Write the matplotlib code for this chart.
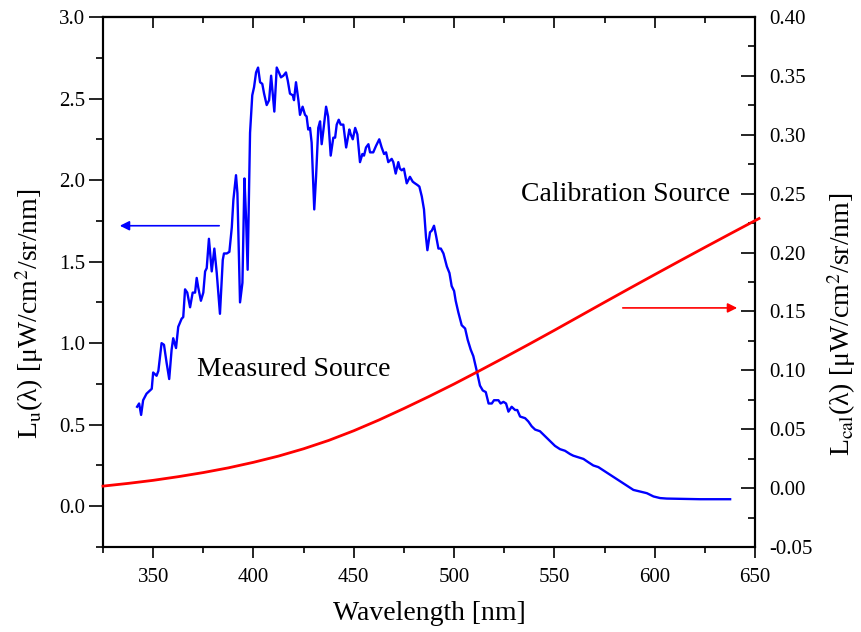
import matplotlib
matplotlib.use('Agg')
import matplotlib.pyplot as plt
from matplotlib.ticker import MultipleLocator, FormatStrFormatter

plt.rcParams['font.family'] = ['Liberation Serif', 'DejaVu Serif']
plt.rcParams['mathtext.fontset'] = 'stix'

# Measured source spectrum (left axis)
wl_measured = [342.0, 343.0, 344.0, 345.0, 346.7, 349.3, 350.0, 351.7, 352.6, 354.2,
               355.4, 356.7, 358.0, 359.2, 360.0, 361.4, 362.5, 364.2, 365.0, 365.9,
               367.0, 368.4, 369.7, 370.9, 371.7, 372.5, 373.8, 375.0, 375.9, 376.7,
               377.8, 379.2, 380.5, 381.7, 383.3, 384.7, 385.3, 386.7, 388.0, 389.2,
               390.0, 391.3, 392.0, 393.3, 394.5, 395.5, 396.3, 397.1, 397.8, 398.3,
               399.4, 400.3, 401.3, 402.3, 403.3, 404.4, 405.3, 406.6, 407.8, 408.8,
               409.6, 410.4, 411.6, 412.7, 413.7, 414.9, 416.2, 417.1, 418.2, 419.6,
               420.2, 421.2, 422.4, 423.2, 424.5, 425.7, 426.5, 427.3, 428.2, 429.0,
               429.8, 430.3, 431.2, 432.3, 433.2, 434.0, 434.8, 436.2, 437.2, 438.5,
               439.8, 440.7, 441.5, 442.5, 443.5, 444.8, 446.2, 447.8, 448.5, 449.5,
               450.7, 451.8, 453.1, 454.3, 455.1, 456.1, 457.3, 458.1, 459.7, 461.1,
               462.7, 463.9, 465.1, 466.1, 467.2, 468.9, 469.7, 470.9, 472.2, 473.0,
               473.9, 475.0, 476.4, 478.0, 479.4, 480.5, 481.7, 482.7, 483.9, 485.0,
               486.0, 486.7, 488.0, 488.9, 490.0, 491.0, 492.2, 493.4, 494.7, 496.4,
               497.7, 498.8, 500.0, 500.8, 502.1, 503.8, 505.5, 506.8, 508.3, 509.6,
               511.3, 512.9, 514.3, 515.8, 517.2, 518.8, 519.9, 522.1, 523.2, 524.6,
               525.9, 527.1, 528.7, 530.4, 531.5, 532.9, 535.4, 537.0, 538.7, 540.4,
               542.8, 545.3, 547.8, 550.3, 552.8, 555.3, 557.8, 559.4, 561.9, 564.5,
               566.9, 569.4, 571.9, 574.4, 576.9, 579.4, 581.9, 584.4, 586.9, 589.4,
               592.7, 596.1, 599.4, 602.7, 606.0, 614.3, 622.6, 637.6]
L_measured = [0.61, 0.63, 0.56, 0.65, 0.69, 0.72, 0.82, 0.80, 0.83, 1.00,
              0.99, 0.88, 0.78, 0.96, 1.03, 0.97, 1.10, 1.15, 1.16, 1.33,
              1.31, 1.22, 1.31, 1.31, 1.40, 1.34, 1.26, 1.31, 1.44, 1.46,
              1.64, 1.44, 1.58, 1.43, 1.18, 1.51, 1.55, 1.55, 1.56, 1.71,
              1.88, 2.03, 1.92, 1.25, 1.37, 2.01, 1.77, 1.45, 1.94, 2.29,
              2.52, 2.57, 2.66, 2.69, 2.60, 2.59, 2.53, 2.46, 2.49, 2.64,
              2.53, 2.42, 2.69, 2.66, 2.63, 2.64, 2.66, 2.61, 2.53, 2.52,
              2.49, 2.60, 2.49, 2.40, 2.45, 2.40, 2.39, 2.31, 2.32, 2.23,
              1.98, 1.82, 2.02, 2.32, 2.36, 2.22, 2.30, 2.45, 2.39, 2.15,
              2.26, 2.26, 2.34, 2.37, 2.34, 2.34, 2.20, 2.31, 2.28, 2.25,
              2.32, 2.28, 2.11, 2.16, 2.15, 2.20, 2.22, 2.17, 2.17, 2.21,
              2.25, 2.20, 2.16, 2.17, 2.11, 2.13, 2.11, 2.04, 2.11, 2.07,
              2.06, 2.07, 1.98, 2.02, 1.99, 1.98, 1.97, 1.96, 1.90, 1.82,
              1.65, 1.57, 1.68, 1.69, 1.72, 1.66, 1.58, 1.58, 1.55, 1.47,
              1.43, 1.35, 1.32, 1.26, 1.19, 1.11, 1.09, 1.02, 0.96, 0.92,
              0.83, 0.74, 0.71, 0.70, 0.63, 0.63, 0.65, 0.65, 0.63, 0.64,
              0.63, 0.58, 0.61, 0.59, 0.59, 0.55, 0.54, 0.52, 0.49, 0.47,
              0.46, 0.43, 0.40, 0.37, 0.35, 0.34, 0.32, 0.31, 0.30, 0.29,
              0.27, 0.25, 0.24, 0.22, 0.20, 0.18, 0.16, 0.14, 0.12, 0.10,
              0.09, 0.08, 0.06, 0.05, 0.047, 0.045, 0.043, 0.043]

# Calibration source spectrum (right axis)
wl_cal = [325.0, 337.5, 350.0, 362.5, 375.0, 387.5, 400.0, 412.5, 425.0, 437.5,
          450.0, 462.5, 475.0, 487.5, 500.0, 512.5, 525.0, 537.5, 550.0, 562.5,
          575.0, 587.5, 600.0, 612.5, 625.0, 637.5, 650.0, 652.0]
L_cal = [0.0017, 0.0040, 0.0066, 0.0097, 0.0132, 0.0172, 0.0219, 0.0272, 0.0334, 0.0405,
         0.0487, 0.0578, 0.0676, 0.0778, 0.0884, 0.0995, 0.1108, 0.1223, 0.1340, 0.1459,
         0.1578, 0.1696, 0.1813, 0.1929, 0.2044, 0.2158, 0.2271, 0.2289]

x_ticks = [350, 400, 450, 500, 550, 600, 650]
x_tick_labels = ['350', '400', '450', '500', '550', '600', '650']

fig = plt.figure(figsize=(8.61, 6.32), dpi=100)
ax = fig.add_axes([103/861, 85/632, 652/861, 530/632])

ax.plot(wl_measured, L_measured, color='#0000ff', lw=1.7, zorder=3)
ax.set_xlim(325, 650)
ax.set_ylim(-0.25, 3.0)
ax.set_xticks(x_ticks)
ax.set_xticklabels(x_tick_labels)
ax.xaxis.set_minor_locator(MultipleLocator(25))
ax.yaxis.set_major_locator(MultipleLocator(0.5))
ax.yaxis.set_minor_locator(MultipleLocator(0.25))
ax.yaxis.set_major_formatter(FormatStrFormatter('%.1f'))
ax.tick_params(axis='both', which='major', direction='out', length=10, width=1.2,
               labelsize=15, pad=3, top=False, right=False)
ax.tick_params(axis='both', which='minor', direction='out', length=5, width=1.2,
               top=False, right=False)
ax.tick_params(axis='x', which='major', length=8, pad=7)
ax.tick_params(axis='x', which='minor', length=4)
for s in ax.spines.values():
    s.set_linewidth(1.5)

# top axis with inward ticks
top = ax.secondary_xaxis('top')
top.set_xticks(x_ticks)
top.xaxis.set_minor_locator(MultipleLocator(25))
top.tick_params(axis='x', which='major', direction='in', length=8, width=1.2, labeltop=False)
top.tick_params(axis='x', which='minor', direction='in', length=4, width=1.2)
top.spines['top'].set_linewidth(1.5)

ax.set_xlabel('Wavelength [nm]', fontsize=20, labelpad=10)
ax.set_ylabel(r'L$_{\mathrm{u}}$(λ) [μW/cm$^{2}$/sr/nm]', fontsize=20)
ax.yaxis.set_label_coords(-0.088, 0.44)

ax2 = ax.twinx()
ax2.plot(wl_cal, L_cal, color='#ff0000', lw=2.0, clip_on=False, zorder=3)
ax2.set_ylim(-0.05, 0.40)
ax2.yaxis.set_major_locator(MultipleLocator(0.05))
ax2.yaxis.set_minor_locator(MultipleLocator(0.025))
ax2.yaxis.set_major_formatter(FormatStrFormatter('%.2f'))
ax2.tick_params(axis='y', which='major', direction='in', length=10, width=1.2,
                labelsize=15, pad=10)
ax2.tick_params(axis='y', which='minor', direction='in', length=5, width=1.2)
for s in ax2.spines.values():
    s.set_linewidth(1.5)
ax2.set_ylabel(r'L$_{\mathrm{cal}}$(λ) [μW/cm$^{2}$/sr/nm]', fontsize=20, rotation=90)
ax2.yaxis.set_label_coords(1.108, 0.42)

ax.text(420.2, 0.84, 'Measured Source', fontsize=20, ha='center', va='center')
ax.text(585.7, 1.91, 'Calibration Source', fontsize=20, ha='center', va='center')

ax.annotate('', xy=(332, 1.72), xytext=(384.3, 1.72),
            arrowprops=dict(arrowstyle='-|>', color='#0000ff', lw=1.2, mutation_scale=14))
ax2.annotate('', xy=(642.5, 0.153), xytext=(582.7, 0.153),
             arrowprops=dict(arrowstyle='-|>', color='#ff0000', lw=1.2, mutation_scale=14))

fig.savefig('out.png', dpi=100)
